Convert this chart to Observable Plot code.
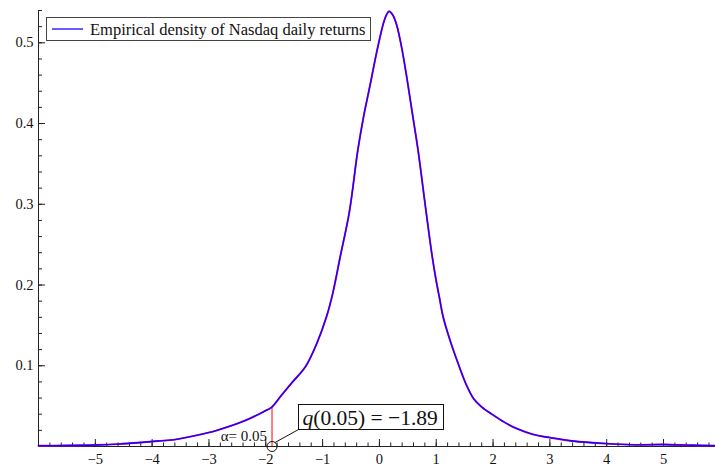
<!DOCTYPE html>
<html><head><meta charset="utf-8">
<script src="https://cdn.jsdelivr.net/npm/d3@7"></script>
<script src="https://cdn.jsdelivr.net/npm/@observablehq/plot@0.6"></script>
<style>body{margin:0;background:#fff}#chart{width:715px;height:466px}
#chart svg text{font-family:"Liberation Serif","Times New Roman",serif !important;}
</style>
</head><body><div id="chart"></div><script>
// Empirical density of Nasdaq daily returns
const returnsX = [-6, -5.5, -5, -4.6, -4.2, -3.9, -3.6, -3.2, -2.86, -2.4, -2.04, -1.89, -1.74, -1.54, -1.3, -1.1, -0.93, -0.82, -0.69, -0.53, -0.38, -0.28, -0.16, -0.04, 0.07, 0.12, 0.17, 0.23, 0.30, 0.40, 0.50, 0.59, 0.68, 0.81, 0.93, 1.0, 1.06, 1.12, 1.25, 1.40, 1.52, 1.66, 1.8, 1.98, 2.2, 2.42, 2.7, 3.0, 3.4, 4.0, 4.5, 5.0, 5.5, 5.93];
const densityY = [0.001, 0.0012, 0.0018, 0.003, 0.005, 0.0068, 0.0085, 0.014, 0.020, 0.031, 0.043, 0.049, 0.062, 0.079, 0.099, 0.128, 0.161, 0.19, 0.235, 0.29, 0.367, 0.408, 0.449, 0.491, 0.524, 0.534, 0.539, 0.535, 0.523, 0.491, 0.449, 0.408, 0.367, 0.297, 0.235, 0.205, 0.183, 0.161, 0.13, 0.10, 0.078, 0.059, 0.049, 0.040, 0.030, 0.022, 0.015, 0.011, 0.0068, 0.0035, 0.002, 0.0025, 0.0015, 0.001];
const xDomain = [-6, 5.915];
const yDomain = [0, 0.54];
const xMajorTicks = [-5, -4, -3, -2, -1, 0, 1, 2, 3, 4, 5];
const yMajorTicks = [0.1, 0.2, 0.3, 0.4, 0.5];
const xMinorTicks = d3.range(-30, 30).map(i => i / 5);
const yMinorTicks = d3.range(1, 28).map(i => i / 50);
const alpha = 0.05;
const quantile = -1.89;
const quantileDensity = 0.049;
const legendLabel = "Empirical density of Nasdaq daily returns";

const data = returnsX.map((x, i) => ({x, y: densityY[i]}));

const W = 715, H = 466, mL = 38, mR = 0, mT = 10, mB = 20;
const fw = W - mL - mR, fh = H - mT - mB;
const font = "Liberation Serif";
const fmtX = d => d < 0 ? `−${-d}` : `${d}`;

const plot = Plot.plot({
  width: W, height: H,
  marginLeft: mL, marginRight: mR, marginTop: mT, marginBottom: mB,
  style: {background: "#fff"},
  x: {domain: xDomain, axis: null},
  y: {domain: yDomain, axis: null},
  marks: [
    Plot.text(xMajorTicks, {x: d => d, frameAnchor: "bottom", dy: 13, text: fmtX, fontSize: 14.5, fill: "#111", lineAnchor: "middle"}),
    Plot.text(yMajorTicks, {y: d => d, frameAnchor: "left", dx: -5, text: d => d.toFixed(1), textAnchor: "end", fontSize: 14.5, fill: "#111", lineAnchor: "middle"}),
    Plot.tickX(xMinorTicks, {x: d => d, insetTop: fh - 3.5, stroke: "#222"}),
    Plot.tickX(xMajorTicks, {x: d => d, insetTop: fh - 7, stroke: "#222"}),
    Plot.tickY(yMinorTicks, {y: d => d, insetRight: fw - 4, stroke: "#222"}),
    Plot.tickY(yMajorTicks, {y: d => d, insetRight: fw - 7, stroke: "#222"}),
    Plot.ruleY([0], {stroke: "#222"}),
    Plot.ruleX([xDomain[0]], {stroke: "#222"}),
    Plot.ruleX([{x: quantile, y: quantileDensity}], {x: "x", y1: 0, y2: "y", stroke: "#ff0000", strokeWidth: 1}),
    Plot.line(data, {x: "x", y: "y", stroke: "#d0109a", strokeWidth: 1.9, curve: "catmull-rom"}),
    Plot.line(data, {x: "x", y: "y", stroke: "#1a00ff", strokeWidth: 1.35, curve: "catmull-rom"}),
    Plot.dot([{x: quantile, y: 0}], {x: "x", y: "y", r: 5, stroke: "#111", fill: "none", strokeWidth: 1}),
    Plot.text([{x: quantile, y: 0}], {x: "x", y: "y", text: () => `α= ${alpha.toFixed(2)}`, textAnchor: "end", dx: -5, dy: -10, fontSize: 15, fill: "#111"})
  ]
});
document.getElementById("chart").appendChild(plot);

const svg = d3.select(plot);
const sx = plot.scale("x"), sy = plot.scale("y");
const qx = sx.apply(quantile), y0 = sy.apply(0);

// annotation box with leader line
const ann = svg.append("g");
const bx = Math.round(qx + 26) + 0.5, by = Math.round(y0 - 42) + 0.5, bw = 145, bh = 25;
ann.append("line").attr("x1", qx + 3.5).attr("y1", y0 - 3.5).attr("x2", bx).attr("y2", by + bh)
  .attr("stroke", "#111").attr("stroke-width", 1);
ann.append("rect").attr("x", bx).attr("y", by).attr("width", bw).attr("height", bh)
  .attr("fill", "#fff").attr("stroke", "#111").attr("stroke-width", 1);
const t = ann.append("text").attr("x", bx + 4).attr("y", by + 20).attr("text-anchor", "start")
  .attr("font-family", font).attr("font-size", 21.5).attr("fill", "#111");
t.append("tspan").attr("font-style", "italic").text("q");
t.append("tspan").text(`(${alpha.toFixed(2)}) = −${Math.abs(quantile).toFixed(2)}`);

// legend
const lg = svg.append("g");
lg.append("rect").attr("x", mL + 8.5).attr("y", 17.5).attr("width", 324).attr("height", 23)
  .attr("fill", "#fff").attr("stroke", "#444").attr("stroke-width", 1);
lg.append("line").attr("x1", mL + 14).attr("x2", mL + 45).attr("y1", 29).attr("y2", 29)
  .attr("stroke", "#1a00ff").attr("stroke-width", 1.3);
lg.append("text").attr("x", mL + 52).attr("y", 35).attr("text-anchor", "start").attr("font-family", font)
  .attr("font-size", 16.5).attr("fill", "#111").text(legendLabel);
</script></body></html>
